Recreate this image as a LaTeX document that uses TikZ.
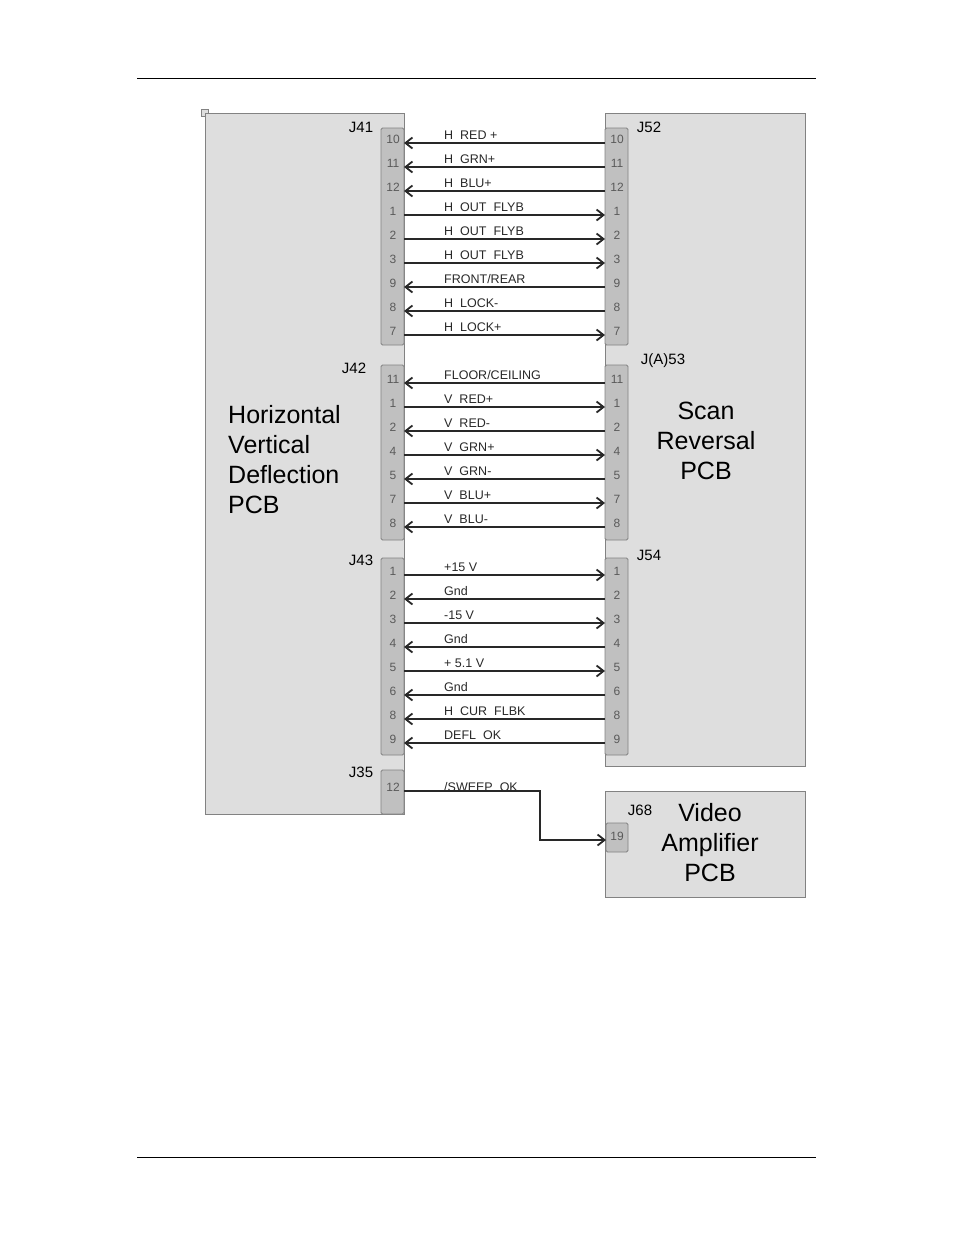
\documentclass[tikz,border=0pt]{standalone}
\usepackage{fontspec}
\setmainfont{Liberation Sans}
\usetikzlibrary{arrows.meta}
\definecolor{pcb}{RGB}{222,222,222}
\definecolor{conn}{RGB}{192,192,192}
\definecolor{edge}{RGB}{130,130,130}
\definecolor{pintxt}{RGB}{90,90,90}
\definecolor{sig}{RGB}{40,40,40}
\begin{document}
\begin{tikzpicture}[x=1pt,y=-1pt,
  board/.style={fill=pcb,draw=edge,line width=0.8pt},
  connbox/.style={fill=conn,draw=edge,line width=0.8pt,rounded corners=1.5pt},
  pin/.style={font=\fontsize{12}{12}\selectfont,text=pintxt,inner sep=0pt},
  clab/.style={font=\fontsize{15}{15}\selectfont,inner sep=0pt},
  sigl/.style={font=\fontsize{12.5}{12.5}\selectfont,text=sig,inner sep=0pt,anchor=base west},
  wire/.style={line width=2pt,draw=sig,-{Straight Barb[length=7pt,width=11pt,line width=1.8pt]}},
  big/.style={font=\fontsize{25}{30}\selectfont,inner sep=0pt,align=left}]
\useasboundingbox (0,0) rectangle (954,1235);
\draw[line width=1pt] (137,78) -- (816,78);
\draw[line width=1pt] (137,1157) -- (816,1157);
% boards
\node[board,minimum width=0pt] (hvd) at (205,113) {};
\draw[board] (205,113) rectangle (404,814);
\draw[board] (605,113) rectangle (805,766);
\draw[board] (605,791) rectangle (805,897);
% connectors
\draw[connbox] (381,128) rectangle (404,345);
\draw[connbox] (381,365) rectangle (404,540);
\draw[connbox] (381,558) rectangle (404,755);
\draw[connbox] (381,770) rectangle (404,814);
\draw[connbox] (605,128) rectangle (628,345);
\draw[connbox] (605,365) rectangle (628,540);
\draw[connbox] (605,558) rectangle (628,755);
\draw[connbox] (606,823) rectangle (628,852);
% connector labels
\node[clab] (j41) at (361,127) {J41};
\node[clab] (j52) at (649,127) {J52};
\node[clab] (j42) at (354,368) {J42};
\node[clab] (j53) at (663,361) {J(A)53};
\node[clab] (j43) at (361,560) {J43};
\node[clab] (j54) at (649,555) {J54};
\node[clab] (j35) at (361,772) {J35};
\node[clab] (j68) at (640,810) {J68};
% board labels
\node[big,anchor=north west] (hvdl) at (228,405) {Horizontal\\Vertical\\Deflection\\PCB};
\node[big,align=center] (srl) at (706,441) {Scan\\Reversal\\PCB};
\node[big,align=center] (val) at (710,843) {Video\\Amplifier\\PCB};
% signal rows: y / pin / label / direction (1 = to right, 0 = to left)
\foreach \y/\p/\t/\d [count=\i] in {
 139/10/{H\ \ RED +}/0, 163/11/{H\ \ GRN+}/0, 187/12/{H\ \ BLU+}/0,
 211/1/{H\ \ OUT\ \ FLYB}/1, 235/2/{H\ \ OUT\ \ FLYB}/1, 259/3/{H\ \ OUT\ \ FLYB}/1,
 283/9/{FRONT/REAR}/0, 307/8/{H\ \ LOCK-}/0, 331/7/{H\ \ LOCK+}/1,
 379/11/{FLOOR/CEILING}/0, 403/1/{V\ \ RED+}/1, 427/2/{V\ \ RED-}/0,
 451/4/{V\ \ GRN+}/1, 475/5/{V\ \ GRN-}/0, 499/7/{V\ \ BLU+}/1, 523/8/{V\ \ BLU-}/0,
 571/1/{+15 V}/1, 595/2/{Gnd}/0, 619/3/{-15 V}/1, 643/4/{Gnd}/0,
 667/5/{+ 5.1 V}/1, 691/6/{Gnd}/0, 715/8/{H\ \ CUR\ \ FLBK}/0, 739/9/{DEFL\ \ OK}/0} {
  \node[pin] (L\i) at (393,\y) {\p};
  \node[pin] (R\i) at (617,\y) {\p};
  \coordinate (LA\i) at (404,\y+4);
  \coordinate (RA\i) at (605,\y+4);
  \node[sigl] (S\i) at (444,\y) {\t};
  \ifnum\d=1 \draw[wire] (LA\i) -- (RA\i); \else \draw[wire] (RA\i) -- (LA\i); \fi
}
\node[pin] (L35) at (393,787) {12};
\node[pin] (R68) at (617,836) {19};
\coordinate (a35) at (404,791);
\coordinate (b68) at (606,840);
\node[sigl] (sw) at (444,791) {/SWEEP\ \ OK};
\draw[wire] (a35) -- (540,791) -- (540,840) -- (b68);
\end{tikzpicture}
\end{document}
